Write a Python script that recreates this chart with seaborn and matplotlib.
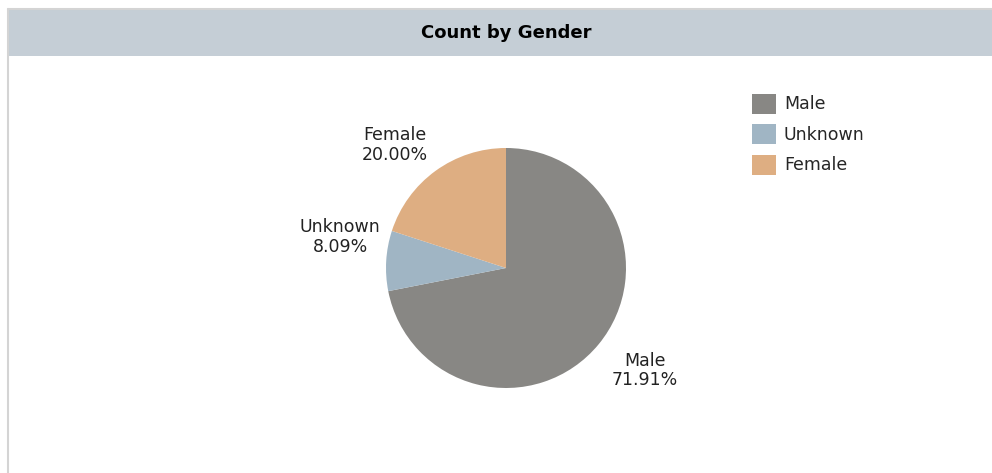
import numpy as np
import matplotlib
matplotlib.use("Agg")
import matplotlib.pyplot as plt
from matplotlib.patches import Rectangle
import seaborn as sns

# Data
genders = ["Male", "Unknown", "Female"]
shares = [71.91, 8.09, 20.00]
colors = ["#888784", "#a0b5c4", "#deae82"]

# small pixel nudges for the slice labels (layout only)
label_nudge = [(9, 4), (2, 21), (-12, -13)]

sns.set_theme(style="white")
plt.rcParams["font.family"] = ["DejaVu Sans"]

W, H = 992, 473
fig = plt.figure(figsize=(W / 100, H / 100), dpi=100)
ax = fig.add_axes([0, 0, 1, 1])

# panel: left and top border + header band
ax.plot([8, 8], [0, H - 9], color="#d4d4d4", lw=1.5)
ax.plot([8, W], [H - 9, H - 9], color="#d4d4d4", lw=1.5)
ax.add_patch(Rectangle((8, H - 56), W - 8, 46, facecolor="#c5ced6", edgecolor="none"))
ax.text(506, H - 33, "Count by Gender", ha="center", va="center",
        fontsize=13, fontweight="bold", color="black")

labels = [f"{g}\n{v:.2f}%" for g, v in zip(genders, shares)]
wedges, texts = ax.pie(shares, colors=colors, startangle=90, counterclock=False,
                       center=(506, H - 268), radius=120, labels=labels,
                       labeldistance=1.4, frame=True,
                       wedgeprops=dict(linewidth=0),
                       textprops=dict(fontsize=12.5, color="#222222", linespacing=1.1))
for t, (dx, dy) in zip(texts, label_nudge):
    x, y = t.get_position()
    t.set_position((x + dx, y + dy))
    t.set_ha("center")
    t.set_multialignment("center")

ax.set_xlim(0, W)
ax.set_ylim(0, H)
ax.set_aspect("equal")
ax.axis("off")

ax.legend(wedges, genders, loc="upper left", bbox_to_anchor=(743 / W, 1 - 85 / H),
          frameon=False, fontsize=12.5, handlelength=1.4, handleheight=1.4,
          handletextpad=0.45, labelspacing=0.6, borderpad=0)

fig.savefig("out.png", dpi=100)
